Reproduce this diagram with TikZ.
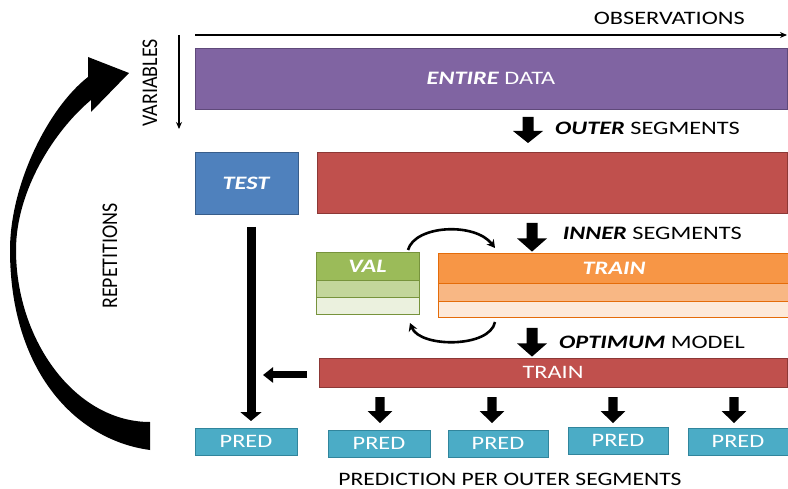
\documentclass[tikz,border=0pt]{standalone}
\usepackage{fontspec}
\setmainfont{Carlito}[FakeStretch=1.28]
\newfontfamily\vertfont{Carlito}
\usetikzlibrary{arrows.meta,calc}

\definecolor{cPurple}{HTML}{8064A2}
\definecolor{cPurpleD}{HTML}{5F497A}
\definecolor{cBlue}{HTML}{4F81BD}
\definecolor{cBlueD}{HTML}{385D8A}
\definecolor{cRed}{HTML}{C0504D}
\definecolor{cRedD}{HTML}{8C3836}
\definecolor{cGreen}{HTML}{9BBB59}
\definecolor{cGreenM}{HTML}{C3D69B}
\definecolor{cGreenL}{HTML}{EBF1DE}
\definecolor{cGreenD}{HTML}{77933C}
\definecolor{cOrange}{HTML}{F79646}
\definecolor{cOrangeM}{HTML}{F8B784}
\definecolor{cOrangeL}{HTML}{FDE9D9}
\definecolor{cOrangeD}{HTML}{E46C0A}
\definecolor{cCyan}{HTML}{4BACC6}
\definecolor{cCyanD}{HTML}{31859C}

\begin{document}
\begin{tikzpicture}[x=1pt,y=-1pt,
  font=\fontsize{19}{22}\selectfont,
  box/.style={draw, line width=0.8pt, anchor=north west, inner sep=0pt,
    outer sep=0pt, text=white},
  predbox/.style={box, fill=cCyan, draw=cCyanD, minimum width=102pt, minimum height=27pt},
  label/.style={inner sep=0pt, anchor=east},
  vlabel/.style={inner sep=0pt, rotate=90, yscale=1.12,
    font=\vertfont\fontsize{20}{22}\selectfont},
  blockdown/.pic={\fill (-5.5,0) -- (5.5,0) -- (5.5,14) -- (15,14) -- (0,26)
    -- (-15,14) -- (-5.5,14) -- cycle;},
  thin arrow/.style={line width=1.4pt, -{Stealth[length=7pt,width=6pt]}},
  swap arrow/.style={line width=2.6pt, -{Stealth[length=8pt,width=9pt]}}]

\useasboundingbox (0,0) rectangle (788,489);

% axes
\coordinate (obsL) at (195,35);
\coordinate (obsR) at (787,35);
\coordinate (varT) at (179,35);
\coordinate (varB) at (179,129);
\draw[thin arrow] (obsL) -- (obsR);
\draw[thin arrow] (varT) -- (varB);
\node[label] (obs) at (745,18) {OBSERVATIONS};
\node[vlabel] (var) at (150,83) {VARIABLES};
\node[vlabel] (rep) at (110,256) {REPETITIONS};

% whole data set
\node[box, fill=cPurple, draw=cPurpleD, minimum width=592pt, minimum height=61pt]
  (entire) at (195,48) {\textbf{\textit{ENTIRE}} DATA};

\pic at (528,117) {blockdown};
\node[label] (outerlbl) at (740,128) {\textbf{\textit{OUTER}} SEGMENTS};

% outer split
\node[box, fill=cBlue, draw=cBlueD, minimum width=103pt, minimum height=62pt]
  (test) at (195,152) {\textbf{\textit{TEST}}};
\node[box, fill=cRed, draw=cRedD, minimum width=470pt, minimum height=61pt]
  (outertrain) at (317,152) {};

\pic[yscale=1.1] at (532,223) {blockdown};
\node[label] (innerlbl) at (742,233) {\textbf{\textit{INNER}} SEGMENTS};

% inner split: validation rows
\node[box, fill=cGreen, draw=cGreenD, minimum width=103pt, minimum height=28pt]
  (val) at (316,252) {\textbf{\textit{VAL}}};
\node[box, fill=cGreenM, draw=cGreenD, minimum width=103pt, minimum height=17pt]
  (val2) at (316,280) {};
\node[box, fill=cGreenL, draw=cGreenD, minimum width=103pt, minimum height=17pt]
  (val3) at (316,297) {};

% inner split: training rows
\node[box, fill=cOrange, draw=cOrangeD, minimum width=352pt, minimum height=30pt]
  (train) at (438,253) {\textbf{\textit{TRAIN}}};
\node[box, fill=cOrangeM, draw=cOrangeD, minimum width=352pt, minimum height=18pt]
  (train2) at (438,283) {};
\node[box, fill=cOrangeL, draw=cOrangeD, minimum width=352pt, minimum height=16pt]
  (train3) at (438,301) {};

% rotation of the inner segments
\coordinate (swapA) at ([xshift=-11pt,yshift=2pt]val.north east);
\coordinate (swapB) at ([xshift=76pt,yshift=4pt]val.north east);
\coordinate (swapC) at ([xshift=76pt,yshift=-8pt]val3.south east);
\coordinate (swapD) at ([xshift=-9pt,yshift=-9pt]val3.south east);
\draw[swap arrow] (swapA) .. controls (415,225) and (475,222) .. (swapB);
\draw[swap arrow] (swapC) .. controls (490,348) and (420,348) .. (swapD);

\pic[yscale=1.1] at (532,328) {blockdown};
\node[label] (optlbl) at (745,342) {\textbf{\textit{OPTIMUM}} MODEL};

% refit on the whole outer training part
\node[box, fill=cRed, draw=cRedD, minimum width=468pt, minimum height=29pt]
  (refit) at (319,358) {TRAIN};

% predictions
\node[predbox] (pred1) at (195,428) {PRED};
\node[predbox] (pred2) at (328,430) {PRED};
\node[predbox, minimum width=100pt] (pred3) at (448,430) {PRED};
\node[predbox, minimum width=100pt] (pred4) at (568,427) {PRED};
\node[predbox, minimum width=100pt] (pred5) at (688,428) {PRED};

\draw[line width=9pt, -{Triangle[length=9pt,width=21pt]}, shorten <=13pt, shorten >=7pt]
  ([xshift=4.5pt]test.south) -- ([xshift=4.5pt]test.south |- pred1.north);
\draw[line width=7pt, -{Triangle[length=10pt,width=15pt]}, shorten <=12pt]
  ([yshift=-2.5pt]refit.west) -- ++(-56,0);

\foreach \x in {380,492,613,734}
  \pic[xscale=0.83, yscale=1.0] at (\x,397) {blockdown};

\node[inner sep=0pt, xscale=0.97] (predlbl) at (510,479) {PREDICTION PER OUTER SEGMENTS};

% repeat loop
\fill (150,450) .. controls (75,440) and (10,370) .. (10,250)
  .. controls (10,185) and (48,108) .. (88,77)
  -- (88,57) -- (129,73) -- (91,112) -- (91,100)
  .. controls (55,130) and (16,190) .. (16,250)
  .. controls (16,340) and (75,422) .. (150,422) -- cycle;
\end{tikzpicture}
\end{document}
